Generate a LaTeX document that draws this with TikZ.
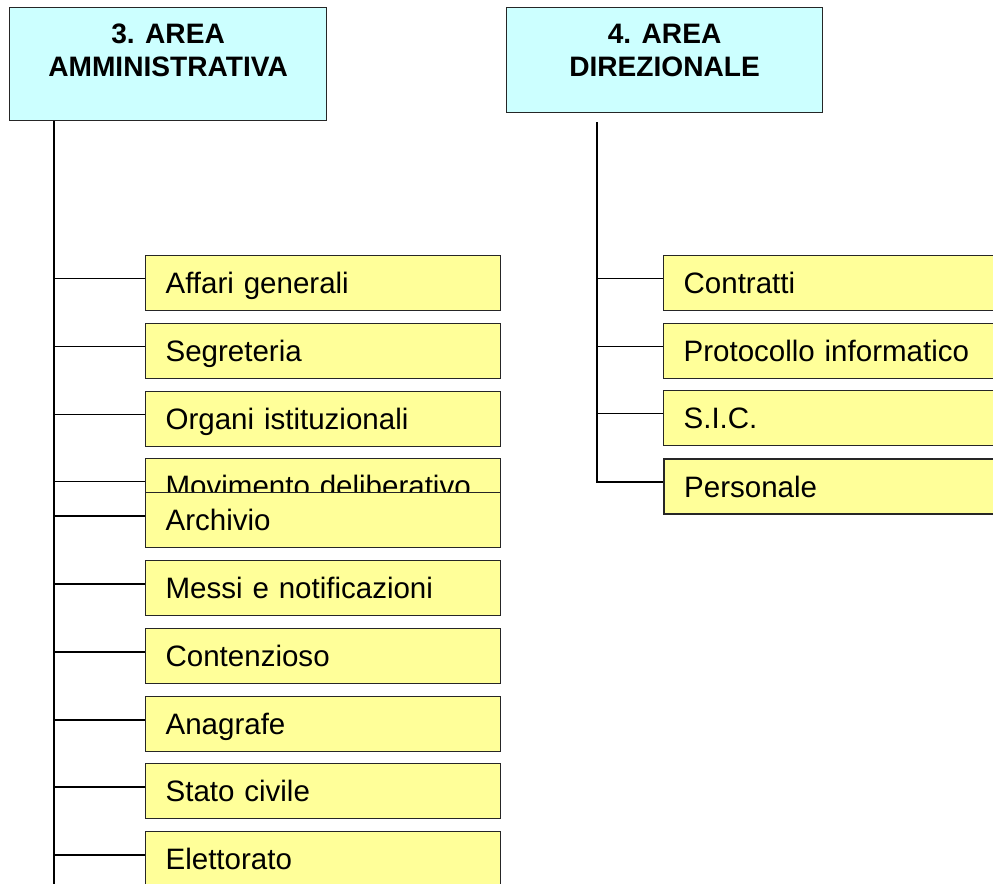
\documentclass[tikz,border=0pt]{standalone}
\usepackage{fontspec}
\setmainfont{Liberation Sans}
\usetikzlibrary{calc}

\definecolor{areacyan}{HTML}{CCFFFF}
\definecolor{unityellow}{HTML}{FFFF99}

\tikzset{
  areabox/.style={draw=black!85, line width=0.7pt, fill=areacyan, inner sep=0pt, anchor=north west},
  areatext/.style={font=\bfseries\fontsize{16}{18.8}\selectfont, align=center, anchor=north, yshift=-0.22cm},
  unitbox/.style={draw=black!85, line width=0.7pt, fill=unityellow, anchor=north west,
    minimum height=1.1cm, text width=6.3cm, inner xsep=0.4cm, inner ysep=0pt, align=left,
    font=\fontsize{16.8}{20}\selectfont, text height=12pt, text depth=0pt},
  link/.style={line width=1pt, black}
}

\begin{document}
\begin{tikzpicture}[x=0.02cm,y=-0.02cm]
  \useasboundingbox (0,0) rectangle (993,883);
  % aree
  \node[areabox, minimum width=6.34cm, minimum height=2.26cm,
    label={[areatext]north:3. AREA\\AMMINISTRATIVA}] (amm) at (9,7) {};
  \node[areabox, minimum width=6.32cm, minimum height=2.1cm,
    label={[areatext]north:4. AREA\\DIREZIONALE}] (dir) at (506,7) {};
  % uffici area amministrativa
  \node[unitbox] (aff) at (145,255) {Affari generali};
  \node[unitbox] (seg) at (145,323) {Segreteria};
  \node[unitbox] (org) at (145,391) {Organi istituzionali};
  \node[unitbox] (mov) at (145,458) {Movimento deliberativo};
  \node[unitbox] (arc) at (145,492) {Archivio};
  \node[unitbox] (mes) at (145,560) {Messi e notificazioni};
  \node[unitbox] (con) at (145,628) {Contenzioso};
  \node[unitbox] (ana) at (145,696) {Anagrafe};
  \node[unitbox] (sta) at (145,763) {Stato civile};
  \node[unitbox] (ele) at (145,831) {Elettorato};
  % uffici area direzionale
  \node[unitbox] (ctr) at (663,255) {Contratti};
  \node[unitbox] (pro) at (663,323) {Protocollo informatico};
  \node[unitbox] (sic) at (663,390) {S.I.C.};
  \node[unitbox, line width=1.4pt] (per) at (663,458) {Personale};
  % linee
  \coordinate (lend) at (54,890);
  \coordinate (rtop) at (597,122);
  \draw[link] (amm.south -| lend) -- (lend);
  \foreach \n in {aff,seg,org,mov,arc,mes,con,ana,sta,ele}
    \draw[link] ($(lend |- \n.west)+(0,-4.5)$) -- ($(\n.west)+(0,-4.5)$);
  \draw[link] (rtop) |- ($(per.west)+(0,-4.5)$);
  \foreach \n in {ctr,pro,sic}
    \draw[link] ($(rtop |- \n.west)+(0,-4.5)$) -- ($(\n.west)+(0,-4.5)$);
\end{tikzpicture}
\end{document}
